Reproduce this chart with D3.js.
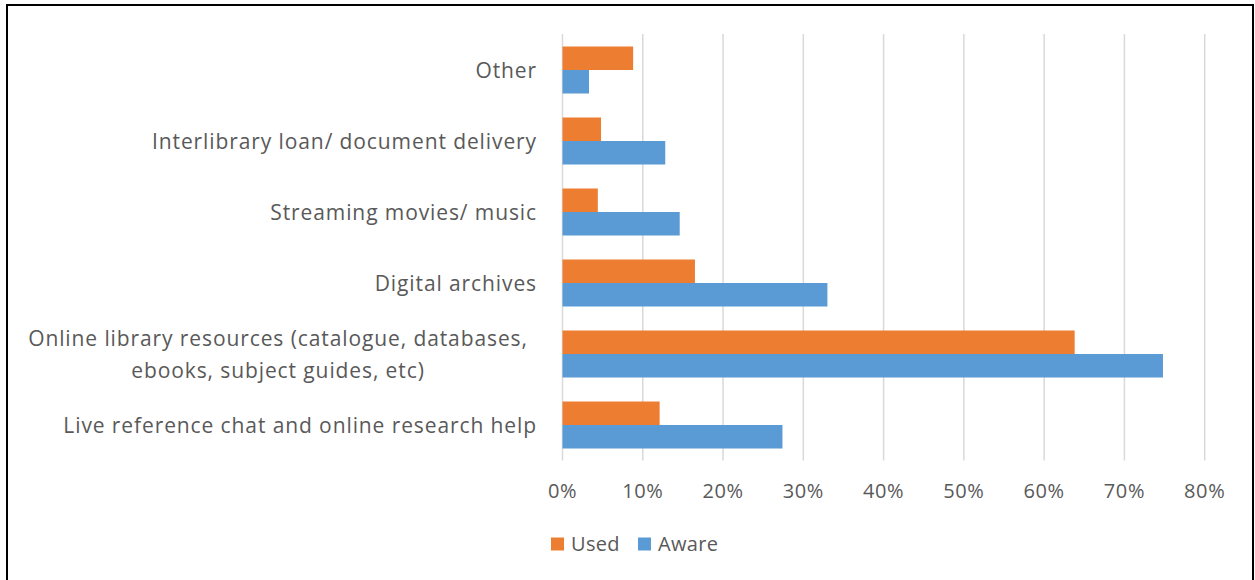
<!DOCTYPE html>
<html lang="en">
<head>
<meta charset="utf-8">
<title>Used vs Aware</title>
<script src="https://cdnjs.cloudflare.com/ajax/libs/d3/7.0.0/d3.min.js"></script>
<style>
  body { margin: 0; background: #fff; }
  text { font-family: "Open Sans", sans-serif; fill: #595959; }
</style>
</head>
<body>
<script>
// categories top to bottom
const categories = [
  "Other",
  "Interlibrary loan/ document delivery",
  "Streaming movies/ music",
  "Digital archives",
  "Online library resources (catalogue, databases,|ebooks, subject guides, etc)",
  "Live reference chat and online research help"
];
const used  = [8.8, 4.8, 4.4, 16.5, 63.8, 12.1];
const aware = [3.3, 12.8, 14.6, 33.0, 74.8, 27.4];
const seriesNames = ["Used", "Aware"];
const seriesColors = ["#ed7d31", "#5b9bd5"];
const xTicks = [0, 10, 20, 30, 40, 50, 60, 70, 80];

var w = 1255, h = 580;
var svg = d3.select("body").append("svg").attr("width", w).attr("height", h);

// outer frame
svg.append("rect").attr("x", 7).attr("y", 5).attr("width", 1246).attr("height", 600)
  .attr("fill", "none").attr("stroke", "#000").attr("stroke-width", 2);

var x = d3.scaleLinear().domain([0, 80]).range([562.5, 1204.7]);
var y = d3.scaleBand().domain(categories).range([34.5, 460.5]).paddingInner(0.338).paddingOuter(0.169);
var sub = d3.scaleBand().domain(seriesNames).range([0, y.bandwidth()]);

// gridlines
svg.append("g").selectAll("line").data(xTicks).enter().append("line")
  .attr("x1", d => x(d)).attr("x2", d => x(d))
  .attr("y1", 34).attr("y2", 460.5)
  .attr("stroke", "#d9d9d9").attr("stroke-width", 1.5);

// bars
var rows = categories.map((c, i) => ({cat: c, vals: [used[i], aware[i]]}));
var groups = svg.append("g").selectAll("g").data(rows).enter().append("g")
  .attr("transform", d => "translate(0," + y(d.cat) + ")");
groups.selectAll("rect").data(d => d.vals.map((v, j) => ({name: seriesNames[j], v: v, j: j})))
  .enter().append("rect")
  .attr("x", x(0))
  .attr("y", d => sub(d.name))
  .attr("width", d => x(d.v) - x(0))
  .attr("height", sub.bandwidth())
  .attr("fill", d => seriesColors[d.j]);

// x tick labels
svg.append("g").selectAll("text").data(xTicks).enter().append("text")
  .attr("x", d => x(d)).attr("y", 498)
  .attr("text-anchor", "middle").attr("font-size", "20px").attr("letter-spacing", "0.6px")
  .text(d => d + "%");

// category labels
categories.forEach(function(c) {
  var lines = c.split("|");
  var cy = y(c) + y.bandwidth() / 2;
  if (lines.length == 1) {
    svg.append("text").attr("x", 537).attr("y", cy + 7.5)
      .attr("text-anchor", "end").attr("font-size", "21px").attr("letter-spacing", "0.9px").text(c);
  } else {
    lines.forEach(function(l, k) {
      svg.append("text").attr("x", 278).attr("y", cy - 8.5 + k * 32)
        .attr("text-anchor", "middle").attr("font-size", "21px").attr("letter-spacing", "0.9px").text(l);
    });
  }
});

// legend
var legX = [551, 638];
seriesNames.forEach(function(n, i) {
  svg.append("rect").attr("x", legX[i]).attr("y", 537.5).attr("width", 13).attr("height", 13)
    .attr("fill", seriesColors[i]);
  svg.append("text").attr("x", legX[i] + 20).attr("y", 551)
    .attr("font-size", "20px").attr("letter-spacing", "0.3px").text(n);
});
</script>
</body>
</html>
